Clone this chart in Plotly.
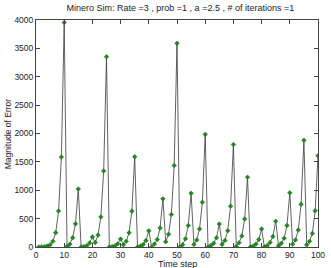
import plotly.graph_objects as go

time_step = list(range(1, 101))
error_magnitude = [
    1, 3, 6, 16, 40, 101, 253, 634, 1585, 3955,
    10, 50, 162, 408, 1022, 0, 7, 22, 70, 178,
    78, 210, 530, 1340, 3353, 0, 7, 22, 58, 140,
    40, 100, 250, 632, 1590, 0, 15, 45, 113, 285,
    0, 52, 132, 335, 850, 92, 225, 572, 1437, 3590,
    0, 40, 145, 378, 948, 45, 125, 318, 790, 1985,
    0, 25, 65, 162, 405, 46, 115, 288, 720, 1805,
    10, 75, 195, 493, 1230, 0, 15, 52, 130, 318,
    0, 25, 80, 185, 455, 20, 65, 155, 380, 955,
    48, 125, 298, 752, 1880, 38, 100, 240, 640, 1610,
]
x_ticks = list(range(0, 101, 10))
y_ticks = list(range(0, 4001, 500))

title_text = "Minero Sim: Rate =3 , prob =1 , a =2.5 , # of iterations =1"
font_family = "Liberation Sans, Arial, sans-serif"

fig = go.Figure()
fig.add_trace(go.Scatter(
    x=time_step, y=error_magnitude, mode="lines+markers",
    line=dict(color="#3a3a3a", width=0.8),
    marker=dict(symbol="diamond", size=3.5, color="#1e8c1e",
                line=dict(color="#0f6a0f", width=0.5)),
    showlegend=False,
))

axis_common = dict(
    showgrid=False, zeroline=False, showline=True, linecolor="#444",
    linewidth=1, mirror="ticks", ticks="inside", ticklen=4,
    tickcolor="#444", ticklabeloverflow="allow",
    tickfont=dict(size=8.5, color="#222", family=font_family),
)
fig.update_xaxes(range=[0, 100], tickvals=x_ticks, **axis_common)
fig.update_yaxes(range=[0, 4000], tickvals=y_ticks, **axis_common)

fig.update_layout(
    width=331, height=268,
    margin=dict(l=36, r=6, t=20, b=21),
    paper_bgcolor="white", plot_bgcolor="white",
    font=dict(family=font_family, color="#222"),
    title=dict(text=title_text, x=0.545, xanchor="center",
               y=1 - 8 / 268, yanchor="middle", yref="container",
               font=dict(size=9, color="#222", family=font_family)),
    annotations=[
        dict(text="Time step", x=0.5, y=-0.075, xref="paper", yref="paper",
             xanchor="center", yanchor="middle", showarrow=False,
             font=dict(size=9, color="#222", family=font_family)),
        dict(text="Magnitude of Error", x=-0.1, y=0.5, xref="paper",
             yref="paper", xanchor="center", yanchor="middle",
             textangle=-90, showarrow=False,
             font=dict(size=8.5, color="#222", family=font_family)),
    ],
)

fig.write_html("out.html")
